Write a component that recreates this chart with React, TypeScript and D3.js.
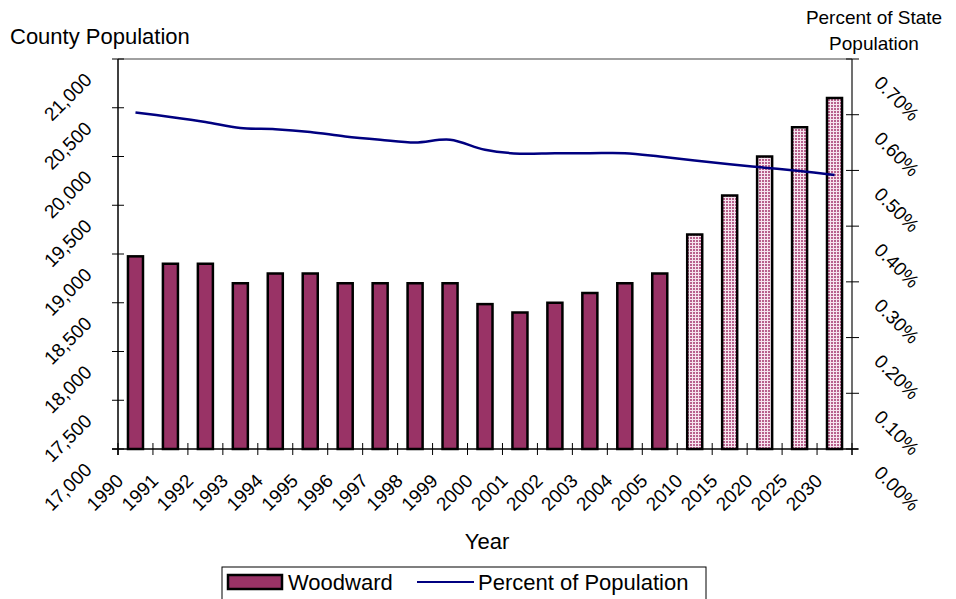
import React from "react";
import * as d3 from "d3";

const years = ["1990","1991","1992","1993","1994","1995","1996","1997","1998","1999","2000","2001","2002","2003","2004","2005","2010","2015","2020","2025","2030"];
const population = [18976,18900,18900,18700,18800,18800,18700,18700,18700,18700,18486,18400,18500,18600,18700,18800,19200,19600,20000,20300,20600];
const percentOfState = [0.604,0.596,0.587,0.576,0.574,0.569,0.561,0.555,0.550,0.555,0.537,0.530,0.531,0.531,0.531,0.525,0.518,0.511,0.505,0.499,0.492];
const projectedFrom = "2010";
const leftTicks = [17000,17500,18000,18500,19000,19500,20000,20500,21000];
const rightTicks = [0,0.1,0.2,0.3,0.4,0.5,0.6,0.7];

const W = 956, H = 599;
const L = 118, R = 852, T = 59, B = 449;
const FONT = "'Liberation Sans', Arial, sans-serif";
const FS = 19;
const TFS = 22;

export default function App() {
  const x = d3.scaleBand<string>().domain(years).range([L, R]).paddingInner(0).paddingOuter(0);
  const y = d3.scaleLinear().domain([17000, 21000]).range([B, T]);
  const y2 = d3.scaleLinear().domain([0, 0.7]).range([B, T]);
  const bw = x.bandwidth() * 0.43;
  const cx = (d: string) => (x(d) as number) + x.bandwidth() / 2;
  const line = d3.line<number>()
    .x((_, i) => cx(years[i]))
    .y((d) => y2(d))
    .curve(d3.curveCatmullRom.alpha(0.5));
  const projIdx = years.indexOf(projectedFrom);
  const boundaries = d3.range(years.length + 1).map((i) => L + i * x.bandwidth());

  return (
    <svg width={W} height={H} style={{ position: "absolute", left: 0, top: 0, background: "#fff" }} fontFamily={FONT}>
      <defs>
        <pattern id="proj" width="3" height="3" patternUnits="userSpaceOnUse">
          <rect width="3" height="3" fill="#f6e4ee" />
          <rect width="2" height="2" fill="#b8618d" />
        </pattern>
      </defs>
      <line x1={L} x2={R} y1={T} y2={T} stroke="#808080" strokeWidth={1.5} />
      {population.map((v, i) => (
        <rect key={years[i]} x={cx(years[i]) - bw / 2} y={y(v)} width={bw} height={B - y(v)}
          fill={i >= projIdx ? "url(#proj)" : "#993366"} stroke="#000" strokeWidth={2.5} />
      ))}
      <path d={line(percentOfState) || ""} fill="none" stroke="#000080" strokeWidth={2.5} />
      <line x1={L} x2={L} y1={T} y2={B + 6} stroke="#000" strokeWidth={1.5} />
      {leftTicks.map((t) => (
        <g key={t}>
          <line x1={L - 6} x2={L + 6} y1={y(t)} y2={y(t)} stroke="#000" strokeWidth={1} />
          <text transform={`translate(${93},${y(t) + 22}) rotate(-45)`} textAnchor="end" fontSize={FS} fill="#000">
            {d3.format(",")(t)}
          </text>
        </g>
      ))}
      <line x1={R} x2={R} y1={T} y2={B + 6} stroke="#404040" strokeWidth={1.5} />
      {rightTicks.map((t) => (
        <g key={t}>
          <line x1={R - 6} x2={R + 7} y1={y2(t)} y2={y2(t)} stroke="#000" strokeWidth={1} />
          <text transform={`translate(${873},${y2(t) + 25}) rotate(45)`} textAnchor="start" fontSize={FS} fill="#000">
            {d3.format(".2f")(t) + "%"}
          </text>
        </g>
      ))}
      <line x1={L - 6} x2={R + 6} y1={B} y2={B} stroke="#000" strokeWidth={1.5} />
      {boundaries.map((bx, i) => (
        <line key={i} x1={bx} x2={bx} y1={B - 6} y2={B + 6} stroke="#000" strokeWidth={1} />
      ))}
      {years.map((yr) => (
        <text key={yr} transform={`translate(${cx(yr) - 11},${B + 33}) rotate(-45)`} textAnchor="end" fontSize={FS} fill="#000">
          {yr}
        </text>
      ))}
      <text x={10} y={44} fontSize={TFS} fill="#000">County Population</text>
      <text x={874} y={24} textAnchor="middle" fontSize={19} fill="#000">Percent of State</text>
      <text x={874} y={50} textAnchor="middle" fontSize={19} fill="#000">Population</text>
      <text x={487} y={549} textAnchor="middle" fontSize={TFS} fill="#000">Year</text>
      <rect x={222} y={567} width={484} height={40} fill="#fff" stroke="#000" strokeWidth={1} />
      <rect x={228} y={575} width={54} height={14} fill="#993366" stroke="#000" strokeWidth={2.5} />
      <text x={288} y={590} fontSize={TFS} fill="#000">Woodward</text>
      <line x1={417} x2={474} y1={582} y2={582} stroke="#000080" strokeWidth={2} />
      <text x={478} y={590} fontSize={TFS} fill="#000">Percent of Population</text>
    </svg>
  );
}
